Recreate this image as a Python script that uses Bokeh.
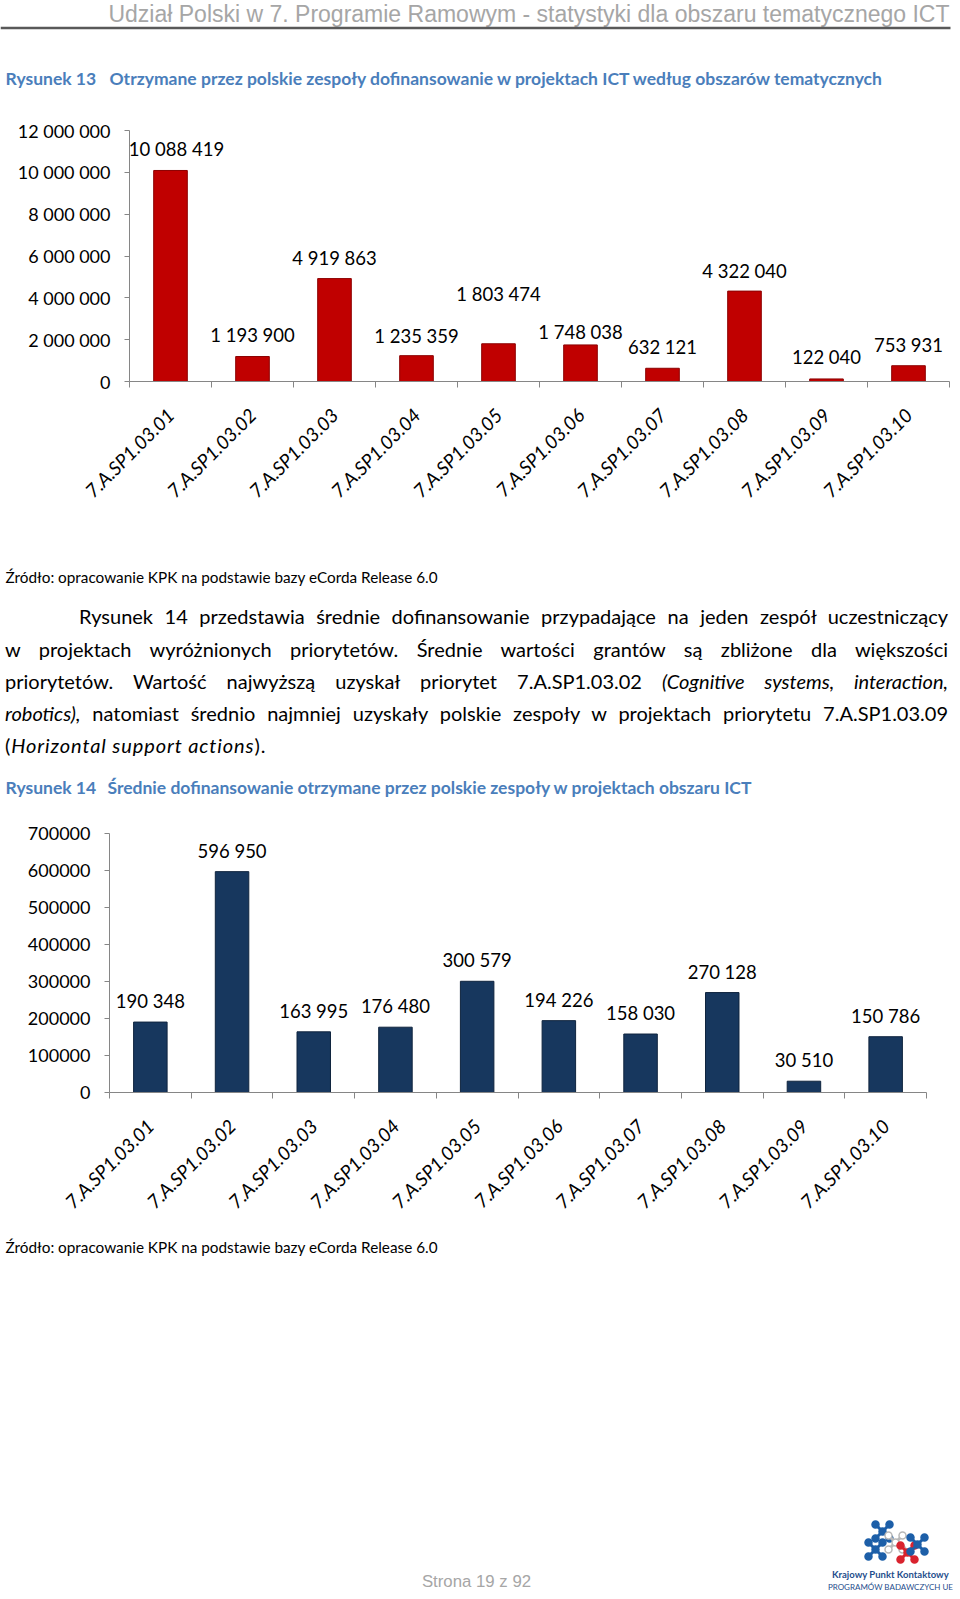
import math
from bokeh.plotting import figure
from bokeh.models import (Range1d, FixedTicker, ColumnDataSource, Div, LabelSet)
from bokeh.core.properties import value
from bokeh.embed import file_html
from bokeh.resources import INLINE

# ---------------- data ----------------
categories = ["7.A.SP1.03.01", "7.A.SP1.03.02", "7.A.SP1.03.03", "7.A.SP1.03.04",
              "7.A.SP1.03.05", "7.A.SP1.03.06", "7.A.SP1.03.07", "7.A.SP1.03.08",
              "7.A.SP1.03.09", "7.A.SP1.03.10"]
funding = [10088419, 1193900, 4919863, 1235359, 1803474,
           1748038, 632121, 4322040, 122040, 753931]
avg_funding = [190348, 596950, 163995, 176480, 300579,
               194226, 158030, 270128, 30510, 150786]
funding_ticks = [0, 2000000, 4000000, 6000000, 8000000, 10000000, 12000000]
avg_ticks = [0, 100000, 200000, 300000, 400000, 500000, 600000, 700000]

# label placement (pixels above bar top / sideways shift) - style only
gap1 = [21, 22, 21, 20, 50, 13, 21, 20, 22, 21]
shift1 = [6, 0, 0, 0, 0, 0, 0, 0, 0, 0]
gap2 = [21] * 10
shift2 = [0] * 10

FONT = "Lato"
GRAY = "#868686"
BLUE = "#4a7ebb"
W = 960


def spaced(v):
    return f"{v:,}".replace(",", " ")


def canvas(y0, y1):
    p = figure(width=W, height=y1 - y0, x_range=Range1d(0, W), y_range=Range1d(y1, y0),
               output_backend="svg", toolbar_location=None,
               x_axis_location=None, y_axis_location=None,
               min_border_left=0, min_border_right=0, min_border_top=0, min_border_bottom=0)
    p.grid.visible = False
    p.outline_line_color = None
    return p


def bar_chart(y0, y1, fl, fr, ft, fb, values, ticks, tick_labels, color, lcolor,
              gaps, shifts, ystand):
    n = len(categories)
    p = figure(width=W, height=y1 - y0, x_range=Range1d(0, n),
               y_range=Range1d(0, ticks[-1]),
               output_backend="svg", toolbar_location=None,
               x_axis_location="below", y_axis_location="left",
               min_border_left=round(fl), min_border_right=round(W - fr),
               min_border_top=round(ft - y0), min_border_bottom=round(y1 - fb))
    p.grid.visible = False
    p.outline_line_color = None
    ya = p.yaxis[0]
    ya.ticker = FixedTicker(ticks=ticks)
    ya.major_label_overrides = {t: l for t, l in zip(ticks, tick_labels)}
    ya.major_tick_in = 0
    ya.major_tick_out = 5
    ya.minor_tick_line_color = None
    ya.axis_line_color = GRAY
    ya.major_tick_line_color = GRAY
    ya.major_label_text_font = FONT
    ya.major_label_text_font_size = "18px"
    ya.major_label_text_color = "black"
    ya.major_label_standoff = ystand

    centers = [i + 0.5 for i in range(n)]
    xa = p.xaxis[0]
    xa.ticker = FixedTicker(ticks=centers, minor_ticks=list(range(n + 1)))
    xa.major_label_overrides = {c: name for c, name in zip(centers, categories)}
    xa.major_tick_line_color = None
    xa.major_tick_out = 6
    xa.major_tick_in = 0
    xa.minor_tick_line_color = GRAY
    xa.minor_tick_out = 6
    xa.minor_tick_in = 0
    xa.axis_line_color = GRAY
    xa.major_label_orientation = math.pi / 4
    xa.major_label_text_font = FONT
    xa.major_label_text_font_style = "italic"
    xa.major_label_text_font_size = "19px"
    xa.major_label_text_color = "black"
    xa.major_label_standoff = 24

    src = ColumnDataSource(dict(x=centers, val=values,
                                lab=[spaced(v) for v in values],
                                dy=list(gaps), dx=list(shifts)))
    p.vbar(x="x", top="val", width=0.41, source=src,
           fill_color=color, line_color=lcolor, line_width=1)
    labels = LabelSet(x="x", y="val", text="lab", x_offset="dx", y_offset="dy", source=src,
                      text_align="center", text_baseline="middle",
                      text_font=value(FONT), text_font_size="18.5px", text_color="black")
    p.add_layout(labels)
    return p


# ---------------- A: header ----------------
pa = canvas(0, 115)
pa.text(x=[949], y=[13], text=["Udział Polski w 7. Programie Ramowym - statystyki dla obszaru tematycznego ICT"],
        text_align="right", text_baseline="middle", text_font=value("Liberation Sans"),
        text_font_size="23px", text_color="#a6a6a6")
pa.segment(x0=[0], y0=[27.5], x1=[950], y1=[27.5], line_color="#595959", line_width=2.5)
pa.text(x=[5], y=[78], text=["Rysunek 13"], text_align="left", text_baseline="middle",
        text_font=value(FONT), text_font_style="bold", text_font_size="17.5px", text_color=BLUE)
pa.text(x=[109], y=[78], text=["Otrzymane przez polskie zespoły dofinansowanie w projektach ICT według obszarów tematycznych"],
        text_align="left", text_baseline="middle",
        text_font=value(FONT), text_font_style="bold", text_font_size="17.5px", text_color=BLUE)

# ---------------- B: chart 13 ----------------
pb = bar_chart(115, 560, 129, 949, 130, 381, funding, funding_ticks,
               [spaced(t) for t in funding_ticks], "#c00000", "#8c0000", gap1, shift1, 14)

# ---------------- C: text ----------------
pc1 = canvas(560, 596)
pc1.text(x=[5], y=[576], text=["Źródło: opracowanie KPK na podstawie bazy eCorda Release 6.0"],
         text_align="left", text_baseline="middle", text_font=value(FONT),
         text_font_size="15.3px", text_color="black")

lines = [
    (79, 4, "Rysunek 14 przedstawia średnie dofinansowanie przypadające na jeden zespół uczestniczący", True),
    (5, 37, "w projektach wyróżnionych priorytetów. Średnie wartości grantów są zbliżone dla większości", True),
    (5, 69, "priorytetów. Wartość najwyższą uzyskał priorytet 7.A.SP1.03.02 <i>(Cognitive systems, interaction,</i>", True),
    (5, 101, "<i>robotics),</i> natomiast średnio najmniej uzyskały polskie zespoły w projektach priorytetu 7.A.SP1.03.09", True),
    (5, 133, "(<i>Horizontal support actions</i>).", False),
]
html = ['<div style="position:relative;width:960px;height:166px;font-family:Lato;font-size:20px;color:#000;">']
for left, top, txt, just in lines:
    align = ("text-align:justify;text-align-last:justify;" if just
             else "text-align:left;letter-spacing:0.9px;")
    html.append(f'<div style="position:absolute;left:{left}px;top:{top}px;width:{948 - left}px;'
                f'height:32px;line-height:32px;{align}">{txt}</div>')
html.append('</div>')
pc2 = Div(text="".join(html), width=W, height=166, margin=(0, 0, 0, 0))

pc3 = canvas(762, 800)
pc3.text(x=[5], y=[787], text=["Rysunek 14"], text_align="left", text_baseline="middle",
         text_font=value(FONT), text_font_style="bold", text_font_size="17.5px", text_color=BLUE)
pc3.text(x=[107], y=[787], text=["Średnie dofinansowanie otrzymane przez polskie zespoły w projektach obszaru ICT"],
         text_align="left", text_baseline="middle",
         text_font=value(FONT), text_font_style="bold", text_font_size="17.5px", text_color=BLUE)

# ---------------- D: chart 14 ----------------
pd_ = bar_chart(800, 1230, 109, 926, 833, 1092, avg_funding, avg_ticks,
                [str(t) for t in avg_ticks], "#17375e", "#0f243e", gap2, shift2, 14)

# ---------------- E: footer ----------------
pe = canvas(1230, 1599)
pe.text(x=[5], y=[1246], text=["Źródło: opracowanie KPK na podstawie bazy eCorda Release 6.0"],
        text_align="left", text_baseline="middle", text_font=value(FONT),
        text_font_size="15.3px", text_color="black")
pe.text(x=[476], y=[1581], text=["Strona 19 z 92"], text_align="center", text_baseline="middle",
        text_font=value("Liberation Sans"), text_font_size="16.8px", text_color="#a6a6a6")

# logo (molecule-like crosses)
mols = [((882, 1531), "#1d5fa8", "#1d5fa8"), ((875, 1549), "#1d5fa8", "#1d5fa8"),
        ((895, 1542), "#b8b8b8", "white"), ((907, 1552), "#d9232e", "#d9232e"),
        ((917, 1544), "#1d5fa8", "#1d5fa8")]
d = 7
for (cx, cy), lc, fc in mols:
    xs0, ys0, xs1, ys1 = [], [], [], []
    ex, ey = [], []
    for sx in (-1, 1):
        for sy in (-1, 1):
            xs0.append(cx); ys0.append(cy); xs1.append(cx + sx * d); ys1.append(cy + sy * d)
            ex.append(cx + sx * d); ey.append(cy + sy * d)
    pe.segment(x0=xs0, y0=ys0, x1=xs1, y1=ys1, line_color=lc, line_width=3)
    pe.scatter(x=ex + [cx], y=ey + [cy], size=7, fill_color=fc, line_color=lc, line_width=1.5)
pe.text(x=[890], y=[1574], text=["Krajowy Punkt Kontaktowy"], text_align="center", text_baseline="middle",
        text_font=value(FONT), text_font_style="bold", text_font_size="9.5px", text_color="#1f4e8c")
pe.text(x=[890], y=[1586], text=["PROGRAMÓW BADAWCZYCH UE"], text_align="center", text_baseline="middle",
        text_font=value(FONT), text_font_size="8px", text_color="#1f4e8c")

roots = [pa, pb, pc1, pc2, pc3, pd_, pe]
open("out.html", "w").write(file_html(roots, INLINE))
